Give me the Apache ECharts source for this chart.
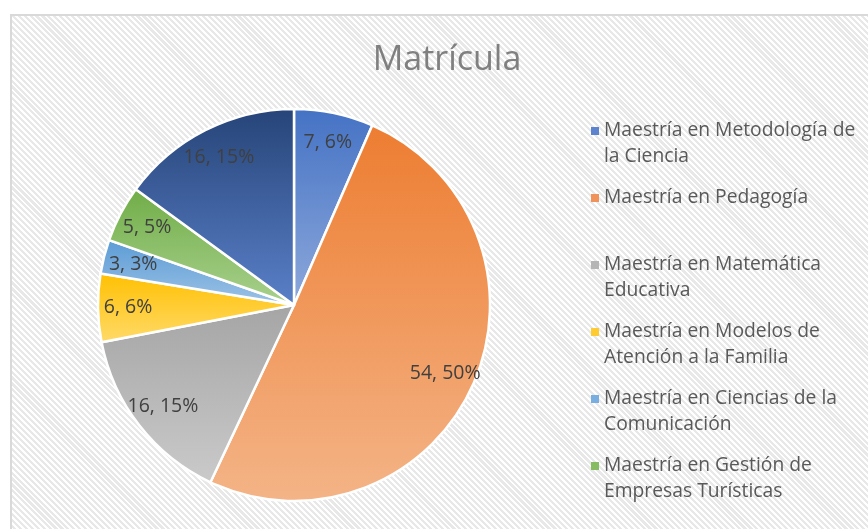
<!DOCTYPE html>
<html>
<head>
<meta charset="utf-8">
<script src="https://cdn.jsdelivr.net/npm/echarts@6/dist/echarts.min.js"></script>
<style>
  html, body { margin: 0; padding: 0; background: #ffffff; }
  #wrap { position: relative; width: 868px; height: 529px; overflow: hidden; }
  #bg { position: absolute; left: 10px; top: 14px; width: 900px; height: 560px;
        border: 2px solid #d9d9d9; box-sizing: border-box;
        background: repeating-linear-gradient(45deg, #ffffff 0px, #ffffff 2px, #e8e8e8 2px, #e8e8e8 4.2px); }
  #chart { position: absolute; left: 0; top: 0; width: 868px; height: 529px; }
</style>
</head>
<body>
<div id="wrap"><div id="bg"></div><div id="chart"></div></div>
<script>
// ---- data ----
const titleText = 'Matrícula';
const categories = [
  'Maestría en Metodología de la Ciencia',
  'Maestría en Pedagogía',
  'Maestría en Matemática Educativa',
  'Maestría en Modelos de Atención a la Familia',
  'Maestría en Ciencias de la Comunicación',
  'Maestría en Gestión de Empresas Turísticas',
  'Otras maestrías'
];
const values = [7, 54, 16, 6, 3, 5, 16];
const percentLabels = ['6%', '50%', '15%', '6%', '3%', '5%', '15%'];
const legendLabels = [
  'Maestría en Metodología de\nla Ciencia',
  'Maestría en Pedagogía\n ',
  'Maestría en Matemática\nEducativa',
  'Maestría en Modelos de\nAtención a la Familia',
  'Maestría en Ciencias de la\nComunicación',
  'Maestría en Gestión de\nEmpresas Turísticas'
];
const legendCount = 6;

// ---- styles ----
const topColors =    ['#4472C4', '#ED7D31', '#A5A5A5', '#FFC000', '#5B9BD5', '#70AD47', '#264478'];
const bottomColors = ['#8EA9DB', '#F4B487', '#CACACA', '#FFDA6A', '#9DC3E6', '#A9D18E', '#5A80C8'];
const solidColors =  ['#5B83CE', '#F0935A', '#B5B5B5', '#FFCB33', '#78AEE0', '#86BD63', '#3A5C9E'];
const FONT = '"Open Sans", "Noto Sans", sans-serif';

function grad(i) {
  return new echarts.graphic.LinearGradient(0, 0, 0, 1, [
    { offset: 0, color: topColors[i] },
    { offset: 1, color: bottomColors[i] }
  ]);
}

const pieData = categories.map((n, i) => ({
  name: n, value: values[i], itemStyle: { color: grad(i) }
}));
const labelData = categories.map((n, i) => ({ name: n, value: values[i] }));

const nameToLegend = {};
categories.forEach((n, i) => { if (i < legendCount) nameToLegend[n] = legendLabels[i]; });

const iconPath = 'path://M0,0 M0,52 M0,9 L8,9 L8,17 L0,17 Z';

const chart = echarts.init(document.getElementById('chart'), null, { renderer: 'canvas' });
chart.setOption({
  backgroundColor: 'transparent',
  animation: false,
  title: {
    text: titleText,
    left: 442, top: 38, textAlign: 'center',
    textStyle: { fontFamily: FONT, fontSize: 34, fontWeight: 'normal', color: '#808080' }
  },
  legend: {
    orient: 'vertical',
    left: 591, top: 118,
    padding: 0,
    itemWidth: 8, itemHeight: 52, itemGap: 15,
    selectedMode: false,
    data: categories.slice(0, legendCount).map((n, i) => ({
      name: n, icon: iconPath, itemStyle: { color: solidColors[i], borderWidth: 0 }
    })),
    formatter: n => nameToLegend[n],
    textStyle: { fontFamily: FONT, fontSize: 19.3, color: '#595959', lineHeight: 26 }
  },
  series: [
    {
      type: 'pie',
      center: [294, 305], radius: [0, 196],
      startAngle: 90, clockwise: true,
      data: pieData,
      label: { show: false },
      labelLine: { show: false },
      itemStyle: { borderColor: '#ffffff', borderWidth: 2.5 },
      emphasis: { disabled: true }
    },
    {
      type: 'pie',
      center: [294, 305], radius: [130, 196],
      startAngle: 90, clockwise: true,
      silent: true,
      data: labelData,
      itemStyle: { color: 'rgba(0,0,0,0)' },
      label: {
        show: true, position: 'inside',
        formatter: p => p.value + ', ' + percentLabels[p.dataIndex],
        fontFamily: FONT, fontSize: 19.5, color: '#404040'
      },
      labelLine: { show: false },
      emphasis: { disabled: true }
    }
  ]
});
</script>
</body>
</html>
